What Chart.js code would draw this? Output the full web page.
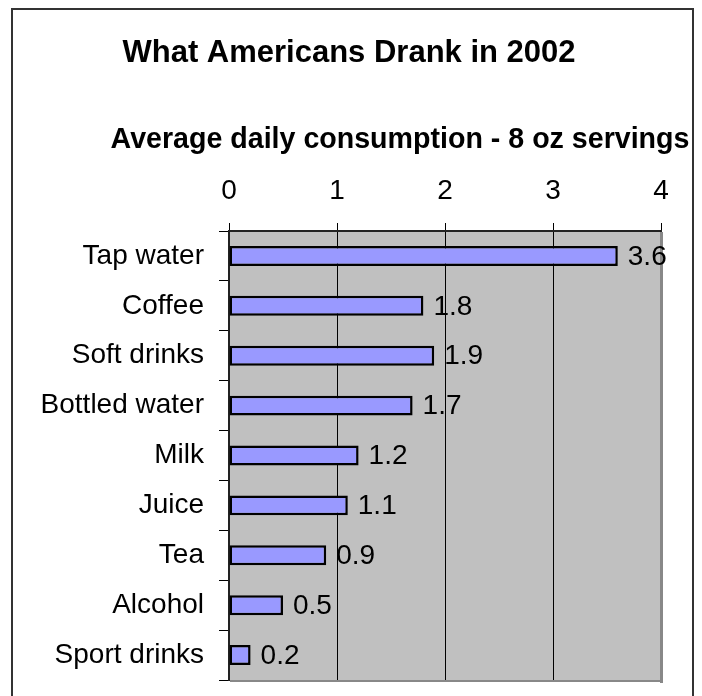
<!DOCTYPE html>
<html>
<head>
<meta charset="utf-8">
<script src="https://cdn.jsdelivr.net/npm/chart.js@4/dist/chart.umd.min.js"></script>
<style>
  html,body{margin:0;padding:0;background:#fff;overflow:hidden;}
  #wrap{position:relative;width:702px;height:696px;}
  #frame{position:absolute;left:11px;top:8px;width:679px;height:720px;border:2px solid #333;pointer-events:none;}
  canvas{position:absolute;left:0;top:0;}
</style>
</head>
<body>
<div id="wrap">
  <canvas id="c" width="702" height="696"></canvas>
  <div id="frame"></div>
</div>
<script>
// ===================== DATA =====================
const TITLE    = 'What Americans Drank in 2002';
const SUBTITLE = 'Average daily consumption - 8 oz servings';
const drinks   = ['Tap water','Coffee','Soft drinks','Bottled water','Milk','Juice','Tea','Alcohol','Sport drinks'];
const servings = [3.6, 1.8, 1.9, 1.7, 1.2, 1.1, 0.9, 0.5, 0.2];
const xTicks   = [0, 1, 2, 3, 4];

const FONT = "'Liberation Sans', Arial, sans-serif";

// gray plot area + drop shadow on right/bottom (excel look)
const plotBg = {
  id:'plotBg',
  beforeDraw(chart){
    const {ctx, chartArea:a} = chart;
    ctx.save();
    ctx.fillStyle = '#c0c0c0';
    ctx.fillRect(a.left, a.top, a.right-a.left, a.bottom-a.top);
    ctx.fillStyle = '#888';
    ctx.fillRect(a.right-1, a.top+1, 3, a.bottom-a.top+2);
    ctx.fillRect(a.left+1, a.bottom, a.right-a.left+1, 2);
    ctx.restore();
  }
};

// title + subtitle
const headings = {
  id:'headings',
  afterDraw(chart){
    const ctx = chart.ctx;
    ctx.save();
    ctx.fillStyle = '#000';
    ctx.textAlign = 'center';
    ctx.textBaseline = 'alphabetic';
    ctx.font = 'bold 31px '+FONT;
    ctx.fillText(TITLE, 349, 62);
    ctx.font = 'bold 28.6px '+FONT;
    ctx.fillText(SUBTITLE, 400, 148);
    ctx.restore();
  }
};

// value labels at bar ends
const valueLabels = {
  id:'valueLabels',
  afterDatasetsDraw(chart){
    const ctx = chart.ctx;
    const meta = chart.getDatasetMeta(0);
    ctx.save();
    ctx.fillStyle = '#000';
    ctx.font = '28px '+FONT;
    ctx.textAlign = 'left';
    ctx.textBaseline = 'middle';
    meta.data.forEach((bar,i)=>{
      ctx.fillText(servings[i].toFixed(1), bar.x+10, bar.y+1);
    });
    ctx.restore();
  }
};

new Chart(document.getElementById('c').getContext('2d'),{
  type:'bar',
  data:{labels:drinks, datasets:[{
    data:servings,
    backgroundColor:'#9999ff',
    borderColor:'#000',
    borderWidth:2.5,
    borderSkipped:false,
    barPercentage:0.4,
    categoryPercentage:1.0
  }]},
  options:{
    indexAxis:'y',
    responsive:false,
    animation:false,
    layout:{padding:{top:0,left:0,right:41,bottom:16}},
    plugins:{legend:{display:false},tooltip:{enabled:false}},
    scales:{
      x:{
        position:'top',
        min:xTicks[0], max:xTicks[xTicks.length-1],
        afterBuildTicks(scale){ scale.ticks = xTicks.map(v=>({value:v})); },
        afterFit(scale){ scale.height = 231; },
        ticks:{color:'#000',padding:15,font:{family:FONT,size:28},maxRotation:0},
        grid:{
          color:c=>(c.tick && c.tick.value>0 && c.tick.value<4) ? '#000' : 'rgba(0,0,0,0)',
          tickColor:'#000',
          tickLength:8,
          lineWidth:1
        },
        border:{display:true,color:'#222',width:2}
      },
      y:{
        afterFit(scale){ scale.width = 229; scale.paddingTop = 0; scale.paddingBottom = 0; },
        ticks:{color:'#000',padding:15,font:{family:FONT,size:28}},
        grid:{drawOnChartArea:false,offset:true,tickLength:10,color:'#000',tickColor:'#000'},
        border:{display:true,color:'#222',width:2}
      }
    }
  },
  plugins:[plotBg, valueLabels, headings]
});
</script>
</body>
</html>
